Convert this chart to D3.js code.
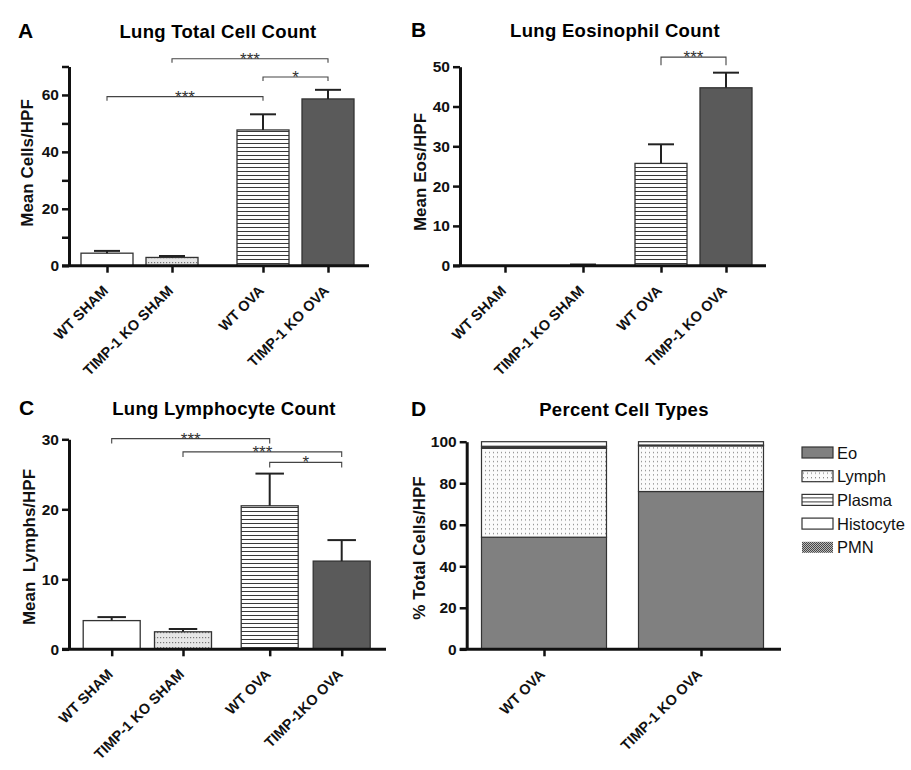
<!DOCTYPE html>
<html><head><meta charset="utf-8">
<script src="https://cdn.jsdelivr.net/npm/d3@7"></script>
<style>
body{margin:0;background:#fff}
text{font-family:Arial,"Liberation Sans",Helvetica,sans-serif}
</style>
</head><body>
<svg id="chart" width="911" height="770"></svg>
<script>
// ---------------- DATA ----------------
const groups  = ["WT SHAM", "TIMP-1 KO SHAM", "WT OVA", "TIMP-1 KO OVA"];
const groupsC = ["WT SHAM", "TIMP-1 KO SHAM", "WT OVA", "TIMP-1KO OVA"];

const totalMean = [4.4, 2.9, 47.7, 58.6];
const totalSem  = [0.8, 0.5, 5.5, 3.2];

const eosMean = [0, 0.1, 25.7, 44.7];
const eosSem  = [0, 0.2, 4.8, 3.8];

const lymphMean = [4.1, 2.5, 20.5, 12.6];
const lymphSem  = [0.5, 0.4, 4.6, 3.0];

const totalTicks = [0, 10, 20, 30, 40, 50, 60, 70];
const eosTicks   = [0, 10, 20, 30, 40, 50];
const lymphTicks = [0, 10, 20, 30];
const pctTicks   = [0, 20, 40, 60, 80, 100];

// significance brackets: [from group, to group, height (data units), label]
const totalSig = [[0, 2, 59.4, "***"], [1, 3, 72.7, "***"], [2, 3, 66.3, "*"]];
const eosSig   = [[2, 3, 52.4, "***"]];
const lymphSig = [[0, 2, 30.1, "***"], [1, 3, 28.2, "***"], [2, 3, 26.7, "*"]];

const pctGroups = ["WT OVA", "TIMP-1 KO OVA"];
const cellTypes = ["Eo", "Lymph", "Plasma", "Histocyte", "PMN"];
const pctEo     = [54.0, 76.0];
const pctLymph  = [42.8, 22.0];
const pctPlasma = [1.0, 0.4];
const pctHisto  = [2.2, 1.6];
const pctPMN    = [0, 0];

// ---------------- DRAWING ----------------
const svg = d3.select("#chart");
const defs = svg.append("defs");

const pStripe = defs.append("pattern").attr("id","stripes").attr("patternUnits","userSpaceOnUse")
  .attr("width",4).attr("height",4);
pStripe.append("rect").attr("width",4).attr("height",4).attr("fill","#fff");
pStripe.append("rect").attr("y",3).attr("width",4).attr("height",1).attr("fill","#3a3a3a");

const pDotsG = defs.append("pattern").attr("id","dotsGray").attr("patternUnits","userSpaceOnUse")
  .attr("width",6).attr("height",5);
pDotsG.append("rect").attr("width",6).attr("height",5).attr("fill","#e6e6e6");
pDotsG.append("rect").attr("x",1).attr("y",2).attr("width",1.2).attr("height",1.2).attr("fill","#777");
pDotsG.append("rect").attr("x",4).attr("y",2).attr("width",1.2).attr("height",1.2).attr("fill","#777");

const pDotsW = defs.append("pattern").attr("id","dotsWhite").attr("patternUnits","userSpaceOnUse")
  .attr("width",4).attr("height",4.5);
pDotsW.append("rect").attr("width",4).attr("height",4.5).attr("fill","#fbfbfb");
pDotsW.append("rect").attr("x",1).attr("y",2).attr("width",1).attr("height",1).attr("fill","#666");

const pCheck = defs.append("pattern").attr("id","check").attr("patternUnits","userSpaceOnUse")
  .attr("width",2).attr("height",2);
pCheck.append("rect").attr("width",2).attr("height",2).attr("fill","#ddd");
pCheck.append("rect").attr("width",1).attr("height",1).attr("fill","#222");
pCheck.append("rect").attr("x",1).attr("y",1).attr("width",1).attr("height",1).attr("fill","#222");

const barFills = ["#ffffff", "url(#dotsGray)", "url(#stripes)", "#5a5a5a"];

function drawBarPanel(cfg) {
  const g = svg.append("g");
  const y = d3.scaleLinear().domain([0, cfg.yMax]).range([cfg.y0, cfg.yTop]);
  const x = d3.scaleOrdinal().domain(cfg.cats).range(cfg.centers);

  g.append("text").attr("x", cfg.letterX).attr("y", cfg.titleY).attr("font-size", 21)
    .attr("font-weight", "bold").text(cfg.letter);
  g.append("text").attr("x", cfg.titleX).attr("y", cfg.titleY).attr("font-size", 18.5)
    .attr("font-weight", "bold").attr("text-anchor", "middle").attr("letter-spacing", 0.3).text(cfg.title);

  const data = cfg.cats.map((c, i) => ({c, i, m: cfg.mean[i], s: cfg.sem[i]}));
  g.selectAll("rect.bar").data(data.filter(d => y(0) - y(d.m) >= 1)).join("rect")
    .attr("class", "bar")
    .attr("x", d => x(d.c) - cfg.barW / 2).attr("width", cfg.barW)
    .attr("y", d => y(d.m)).attr("height", d => y(0) - y(d.m))
    .attr("fill", d => barFills[d.i]).attr("stroke", "#333").attr("stroke-width", 1.3);

  const eb = g.selectAll("g.err").data(data.filter(d => d.s > 0)).join("g").attr("class", "err");
  eb.append("line").attr("x1", d => x(d.c)).attr("x2", d => x(d.c))
    .attr("y1", d => y(d.m)).attr("y2", d => y(d.m + d.s)).attr("stroke", "#222").attr("stroke-width", 2);
  eb.append("line").attr("x1", d => x(d.c) - cfg.barW * 0.25).attr("x2", d => x(d.c) + cfg.barW * 0.25)
    .attr("y1", d => y(d.m + d.s)).attr("y2", d => y(d.m + d.s)).attr("stroke", "#222").attr("stroke-width", 2);

  const ya = g.append("g").attr("transform", `translate(${cfg.axisX},0)`)
    .call(d3.axisLeft(y).tickValues(cfg.ticks).tickSize(7).tickSizeOuter(0).tickPadding(3)
      .tickFormat(d => (cfg.labelEvery ? d % cfg.labelEvery === 0 : true) ? d : ""));
  ya.select(".domain").attr("stroke", "#111").attr("stroke-width", 3);
  ya.selectAll(".tick line").attr("stroke", "#111").attr("stroke-width", 2.5);
  ya.selectAll(".tick text").attr("font-size", 15.5).attr("font-weight", "bold").attr("fill", "#111")
    .attr("font-family", "Arial, 'Liberation Sans', sans-serif");

  const xa = g.append("g").attr("transform", `translate(0,${cfg.y0})`)
    .call(d3.axisBottom(x).tickSize(7).tickSizeOuter(0).tickFormat(""));
  xa.select(".domain").remove();
  xa.selectAll(".tick line").attr("stroke", "#111").attr("stroke-width", 2.5);
  g.append("line").attr("x1", cfg.axisX - 7).attr("x2", cfg.xEnd).attr("y1", cfg.y0).attr("y2", cfg.y0)
    .attr("stroke", "#111").attr("stroke-width", 3);
  g.selectAll("text.xl").data(cfg.cats).join("text").attr("class", "xl")
    .attr("transform", d => `translate(${x(d) + 2},${cfg.y0 + 26}) rotate(-45)`)
    .attr("text-anchor", "end").attr("font-size", 14.5).attr("font-weight", "bold").attr("fill", "#111")
    .text(d => d);

  g.append("text").attr("transform", `translate(${cfg.ylabX},${cfg.ylabY}) rotate(-90)`)
    .attr("text-anchor", "middle").attr("font-size", 17).attr("font-weight", "bold").attr("fill", "#111")
    .attr("xml:space", "preserve").style("white-space", "pre").text(cfg.ylab);

  cfg.sig.forEach(([a, b, h, lab]) => {
    const x1 = x(cfg.cats[a]), x2 = x(cfg.cats[b]), yy = y(h);
    g.append("path").attr("d", `M${x1},${yy + cfg.sigTick}V${yy}H${x2}V${yy + cfg.sigTick}`)
      .attr("fill", "none").attr("stroke", "#444").attr("stroke-width", 1.1);
    g.append("text").attr("x", (x1 + x2) / 2).attr("y", yy + 6).attr("text-anchor", "middle")
      .attr("font-size", 17).attr("fill", "#333").text(lab);
  });
}

drawBarPanel({
  letter: "A", letterX: 18, title: "Lung Total Cell Count", titleX: 218, titleY: 38,
  cats: groups, mean: totalMean, sem: totalSem, ticks: totalTicks, labelEvery: 20, yMax: 70,
  axisX: 69, y0: 265.7, yTop: 66.5, xEnd: 369, centers: [107, 172, 263, 328], barW: 52,
  ylab: "Mean Cells/HPF", ylabX: 33, ylabY: 163, sig: totalSig, sigTick: 4
});
drawBarPanel({
  letter: "B", letterX: 411, title: "Lung Eosinophil Count", titleX: 615, titleY: 37,
  cats: groups, mean: eosMean, sem: eosSem, ticks: eosTicks, labelEvery: 0, yMax: 50,
  axisX: 460, y0: 265.7, yTop: 66.7, xEnd: 766, centers: [505, 583, 661, 726], barW: 52,
  ylab: "Mean Eos/HPF", ylabX: 426, ylabY: 172, sig: eosSig, sigTick: 8
});
drawBarPanel({
  letter: "C", letterX: 19, title: "Lung Lymphocyte Count", titleX: 224, titleY: 415,
  cats: groupsC, mean: lymphMean, sem: lymphSem, ticks: lymphTicks, labelEvery: 0, yMax: 30,
  axisX: 69, y0: 649.3, yTop: 439.3, xEnd: 386, centers: [111.7, 183, 269.7, 341.7], barW: 57,
  ylab: "Mean  Lymphs/HPF", ylabX: 35, ylabY: 547, sig: lymphSig, sigTick: 5
});

// ---------- Panel D: stacked percent ----------
(function () {
  const g = svg.append("g");
  const axisX = 466.7, y0 = 649.3, yTop = 441.7, xEnd = 781, barW = 125;
  const y = d3.scaleLinear().domain([0, 100]).range([y0, yTop]);
  const x = d3.scaleOrdinal().domain(pctGroups).range([544, 701]);
  const rows = pctGroups.map((grp, i) => ({grp, Eo: pctEo[i], Lymph: pctLymph[i], Plasma: pctPlasma[i],
    Histocyte: pctHisto[i], PMN: pctPMN[i]}));
  const series = d3.stack().keys(cellTypes)(rows);
  const fills = {Eo: "#808080", Lymph: "url(#dotsWhite)", Plasma: "url(#stripes)", Histocyte: "#ffffff", PMN: "url(#check)"};

  g.append("text").attr("x", 411).attr("y", 416).attr("font-size", 21).attr("font-weight", "bold").text("D");
  g.append("text").attr("x", 624).attr("y", 416).attr("font-size", 18.5).attr("font-weight", "bold")
    .attr("letter-spacing", 0.3).attr("text-anchor", "middle").text("Percent Cell Types");

  series.forEach(s => {
    g.selectAll(null).data(s.filter(d => d[1] - d[0] > 0)).join("rect")
      .attr("x", d => x(d.data.grp) - barW / 2).attr("width", barW)
      .attr("y", d => y(d[1])).attr("height", d => y(d[0]) - y(d[1]))
      .attr("fill", fills[s.key]).attr("stroke", "#333").attr("stroke-width", 1.2);
  });

  const ya = g.append("g").attr("transform", `translate(${axisX},0)`)
    .call(d3.axisLeft(y).tickValues(pctTicks).tickSize(7).tickSizeOuter(0).tickPadding(3));
  ya.select(".domain").attr("stroke", "#111").attr("stroke-width", 3);
  ya.selectAll(".tick line").attr("stroke", "#111").attr("stroke-width", 2.5);
  ya.selectAll(".tick text").attr("font-size", 15.5).attr("font-weight", "bold").attr("fill", "#111")
    .attr("font-family", "Arial, 'Liberation Sans', sans-serif");

  const xa = g.append("g").attr("transform", `translate(0,${y0})`)
    .call(d3.axisBottom(x).tickSize(7).tickSizeOuter(0).tickFormat(""));
  xa.select(".domain").remove();
  xa.selectAll(".tick line").attr("stroke", "#111").attr("stroke-width", 2.5);
  g.append("line").attr("x1", axisX - 7).attr("x2", xEnd).attr("y1", y0).attr("y2", y0)
    .attr("stroke", "#111").attr("stroke-width", 3);
  g.selectAll("text.xl").data(pctGroups).join("text").attr("class", "xl")
    .attr("transform", d => `translate(${x(d) + 2},${y0 + 26}) rotate(-45)`)
    .attr("text-anchor", "end").attr("font-size", 14.5).attr("font-weight", "bold").attr("fill", "#111")
    .text(d => d);

  g.append("text").attr("transform", `translate(425,548) rotate(-90)`)
    .attr("text-anchor", "middle").attr("font-size", 17).attr("font-weight", "bold").attr("fill", "#111")
    .text("% Total Cells/HPF");

  const lg = g.selectAll("g.leg").data(cellTypes).join("g").attr("class", "leg")
    .attr("transform", (d, i) => `translate(802,${447 + i * 23.7})`);
  lg.append("rect").attr("width", 31).attr("height", 11).attr("fill", d => fills[d])
    .attr("stroke", d => d === "PMN" ? "none" : "#333").attr("stroke-width", 1.2);
  lg.append("text").attr("x", 35).attr("y", 11.5).attr("font-size", 16.5).attr("fill", "#111").text(d => d);
})();
</script>
</body></html>
